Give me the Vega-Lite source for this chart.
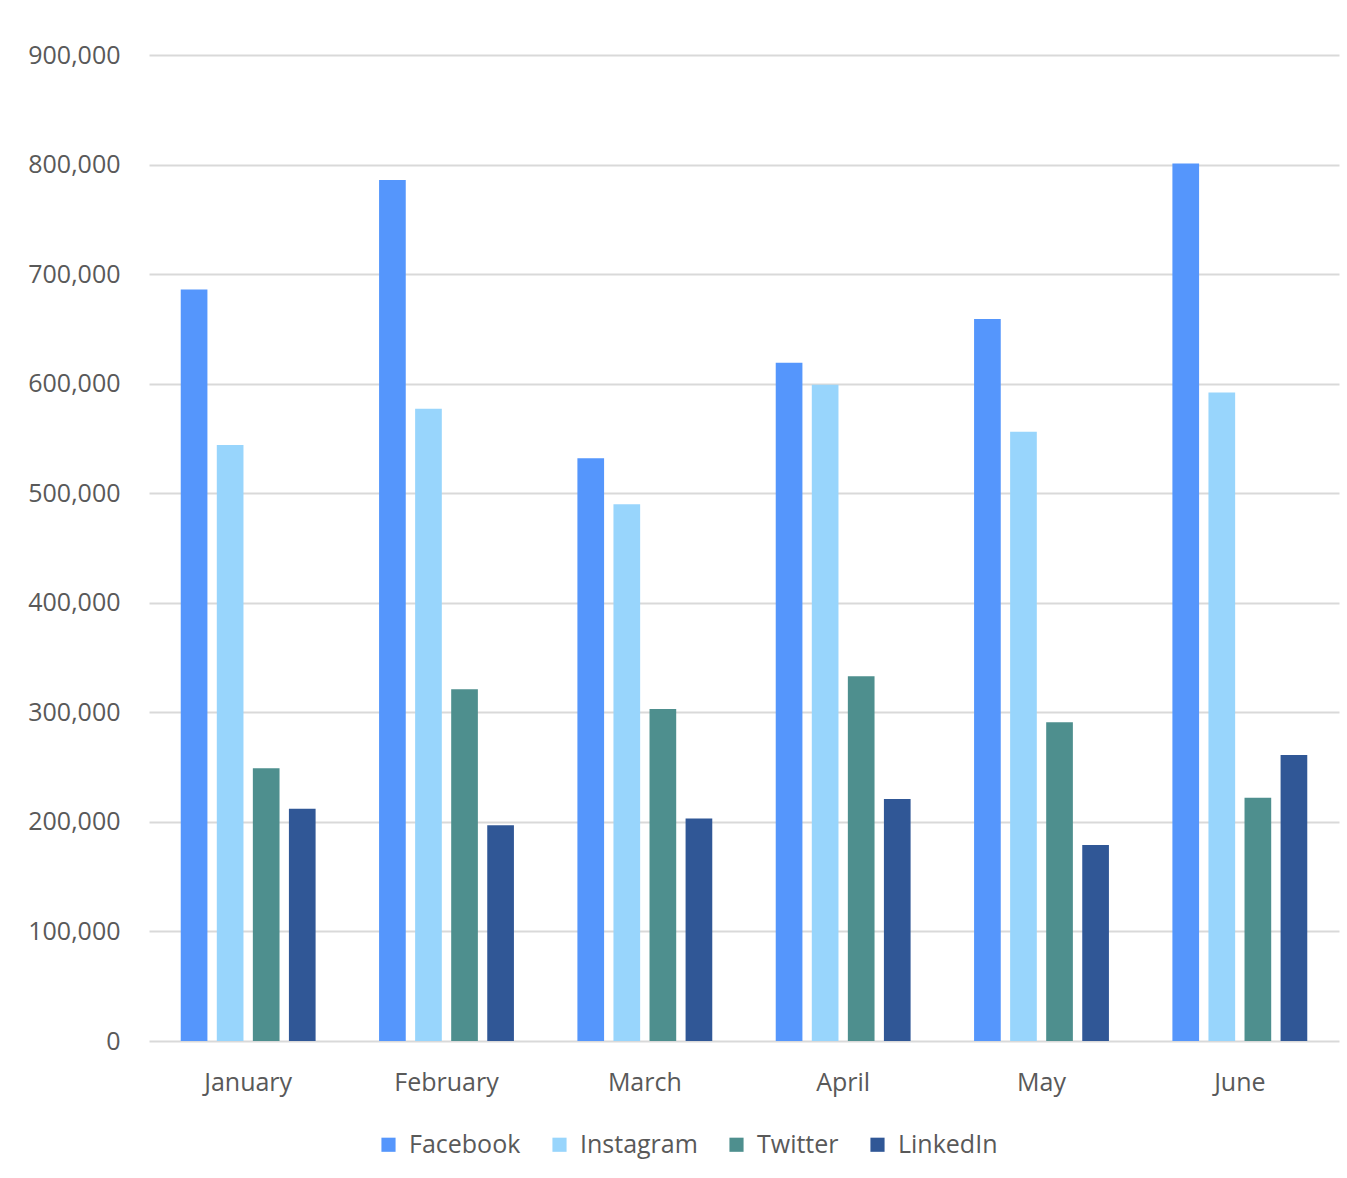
{
  "$schema": "https://vega.github.io/schema/vega-lite/v6.json",
  "autosize": {"type": "none"},
  "padding": {"left": 148, "top": 55, "right": 0, "bottom": 137},
  "width": 1199,
  "height": 986,
  "background": "white",
  "config": {
    "view": {"stroke": null},
    "font": "Open Sans",
    "axis": {"labelColor": "#595959", "labelFontSize": 25, "labelFont": "Open Sans"}
  },
  "data": {
    "values": [
      {"month": "January", "platform": "Facebook", "value": 686000},
      {"month": "January", "platform": "Instagram", "value": 544000},
      {"month": "January", "platform": "Twitter", "value": 249000},
      {"month": "January", "platform": "LinkedIn", "value": 212000},
      {"month": "February", "platform": "Facebook", "value": 786000},
      {"month": "February", "platform": "Instagram", "value": 577000},
      {"month": "February", "platform": "Twitter", "value": 321000},
      {"month": "February", "platform": "LinkedIn", "value": 197000},
      {"month": "March", "platform": "Facebook", "value": 532000},
      {"month": "March", "platform": "Instagram", "value": 490000},
      {"month": "March", "platform": "Twitter", "value": 303000},
      {"month": "March", "platform": "LinkedIn", "value": 203000},
      {"month": "April", "platform": "Facebook", "value": 619000},
      {"month": "April", "platform": "Instagram", "value": 599000},
      {"month": "April", "platform": "Twitter", "value": 333000},
      {"month": "April", "platform": "LinkedIn", "value": 221000},
      {"month": "May", "platform": "Facebook", "value": 659000},
      {"month": "May", "platform": "Instagram", "value": 556000},
      {"month": "May", "platform": "Twitter", "value": 291000},
      {"month": "May", "platform": "LinkedIn", "value": 179000},
      {"month": "June", "platform": "Facebook", "value": 801000},
      {"month": "June", "platform": "Instagram", "value": 592000},
      {"month": "June", "platform": "Twitter", "value": 222000},
      {"month": "June", "platform": "LinkedIn", "value": 261000}
    ]
  },
  "mark": {"type": "bar"},
  "encoding": {
    "x": {
      "field": "month", "type": "nominal",
      "sort": ["January", "February", "March", "April", "May", "June"],
      "scale": {"paddingInner": 0.32, "paddingOuter": 0.16, "range": [1, 1191]},
      "axis": {"title": null, "labelAngle": 0, "ticks": false, "domain": false, "labelPadding": 29, "grid": false}
    },
    "xOffset": {
      "field": "platform", "type": "nominal",
      "sort": ["Facebook", "Instagram", "Twitter", "LinkedIn"],
      "scale": {"paddingInner": 0.26, "paddingOuter": 0}
    },
    "y": {
      "field": "value", "type": "quantitative",
      "scale": {"domain": [0, 900000], "nice": false},
      "axis": {
        "title": null, "values": [0, 100000, 200000, 300000, 400000, 500000, 600000, 700000, 800000, 900000],
        "format": ",d", "ticks": false, "domain": false, "labelPadding": 28,
        "grid": true, "gridColor": "#d9d9d9", "gridWidth": 2
      }
    },
    "color": {
      "field": "platform", "type": "nominal",
      "sort": ["Facebook", "Instagram", "Twitter", "LinkedIn"],
      "scale": {"domain": ["Facebook", "Instagram", "Twitter", "LinkedIn"], "range": ["#5596FC", "#98D5FC", "#4E8F8E", "#305796"]},
      "legend": {
        "title": null, "orient": "none", "direction": "horizontal",
        "legendX": 228, "legendY": 1077,
        "symbolType": "square", "symbolSize": 200, "symbolStrokeWidth": 0,
        "labelFontSize": 25, "labelColor": "#595959", "labelFont": "Open Sans",
        "columnPadding": 26, "padding": 0, "labelOffset": 8
      }
    }
  }
}
